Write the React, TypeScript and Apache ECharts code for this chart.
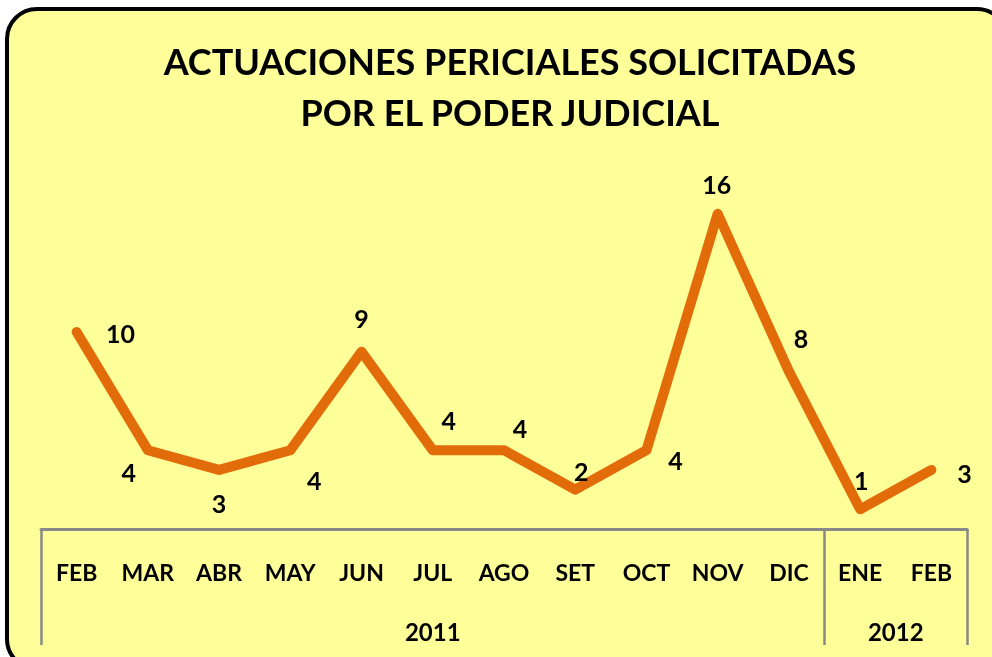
import React, { useEffect, useRef } from "react";
import * as echarts from "echarts";

const months = ["FEB", "MAR", "ABR", "MAY", "JUN", "JUL", "AGO", "SET", "OCT", "NOV", "DIC", "ENE", "FEB"];
const values = [10, 4, 3, 4, 9, 4, 4, 2, 4, 16, 8, 1, 3];
const years = ["2011", "2012"];
const yearMonthCounts = [11, 2];
const titleLines = ["ACTUACIONES PERICIALES SOLICITADAS", "POR EL PODER JUDICIAL"];

const labelOffsets: number[][] = [
  [44, 1], [-19, 22], [0, 33], [24, 30], [0, -34], [16, -30], [16, -22],
  [6, -19], [29, 10], [-1, -30], [12, -33], [1, -29], [33, 3],
];

export default function App() {
  const ref = useRef<HTMLDivElement>(null);
  useEffect(() => {
    if (!ref.current) return;
    const chart = echarts.init(ref.current, null, { renderer: "svg" });
    const bounds: number[] = [0];
    yearMonthCounts.forEach((c) => bounds.push(bounds[bounds.length - 1] + c));
    const mids = yearMonthCounts.map((c, i) => bounds[i] + c / 2);
    const font = "Lato";
    chart.setOption({
      animation: false,
      graphic: [
        {
          type: "rect",
          z: -10,
          silent: true,
          shape: { x: 7, y: 9, width: 1000, height: 660, r: 30 },
          style: { fill: "#FFFF99", stroke: "#000", lineWidth: 4 },
        },
      ],
      title: {
        text: titleLines.join("\n"),
        left: 505,
        top: 30,
        textAlign: "center",
        textStyle: { fontFamily: font, fontWeight: "bold", fontSize: 36, lineHeight: 51, color: "#000" },
      },
      grid: { left: 41, right: 25, top: 135, bottom: 128 },
      xAxis: [
        {
          type: "category",
          data: months,
          boundaryGap: true,
          position: "bottom",
          axisLine: { lineStyle: { color: "#898989", width: 3 } },
          axisTick: { show: false },
          axisLabel: { fontFamily: font, fontWeight: "bold", fontSize: 23, color: "#000", margin: 31, interval: 0 },
          splitLine: { show: false },
        },
        {
          type: "value",
          min: 0,
          max: months.length,
          position: "bottom",
          axisLine: { show: false },
          splitLine: { show: false },
          axisTick: {
            show: true,
            customValues: bounds,
            length: 116,
            lineStyle: { color: "#898989", width: 2.5 },
          },
          axisLabel: {
            customValues: mids,
            formatter: (v: number) => {
              const i = mids.findIndex((m) => Math.abs(m - v) < 1e-6);
              return i >= 0 ? years[i] : "";
            },
            fontFamily: font,
            fontWeight: "bold",
            fontSize: 24,
            color: "#000",
            margin: 90,
          },
        },
      ],
      yAxis: { type: "value", min: 0, max: 20, show: false },
      series: [
        {
          type: "line",
          xAxisIndex: 0,
          data: values.map((v, i) => ({ value: v, label: { offset: labelOffsets[i] } })),
          symbol: "circle",
          symbolSize: 1,
          itemStyle: { color: "rgba(0,0,0,0)" },
          lineStyle: { color: "#E26B0A", width: 10, cap: "round", join: "round" },
          label: {
            show: true,
            position: "inside",
            color: "#000",
            fontFamily: font,
            fontWeight: "bold",
            fontSize: 25,
          },
        },
      ],
    });
    return () => chart.dispose();
  }, []);
  return <div ref={ref} style={{ position: "fixed", left: 0, top: 0, width: 992, height: 657 }} />;
}
